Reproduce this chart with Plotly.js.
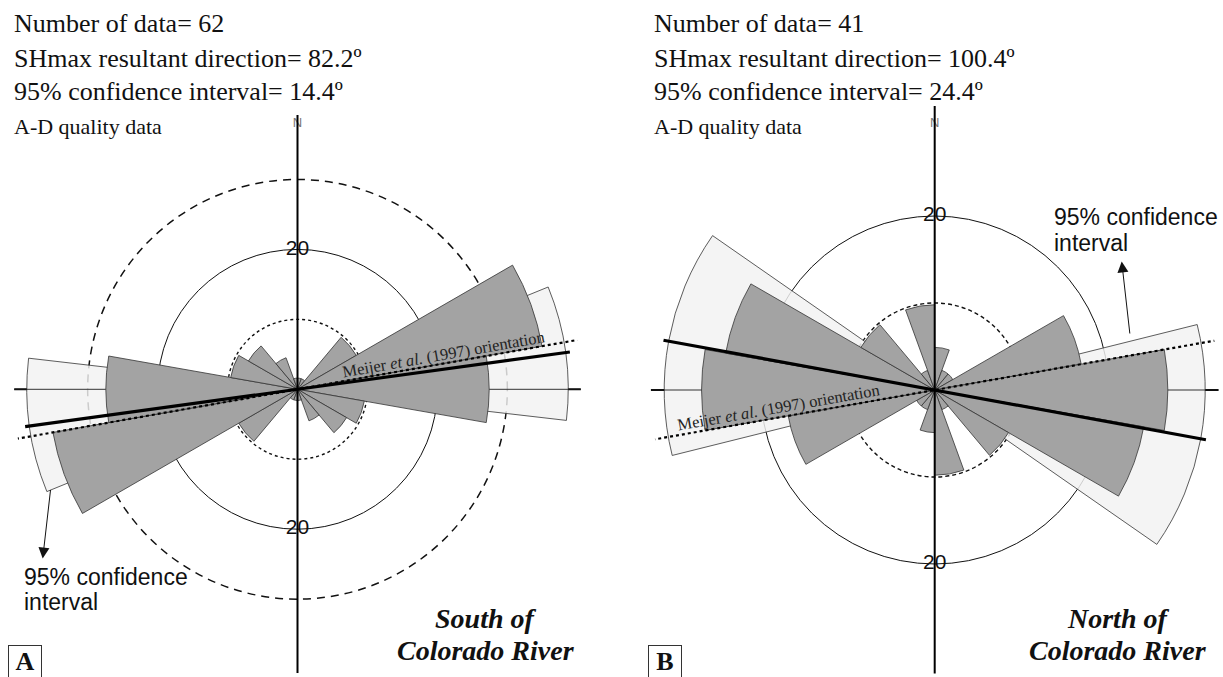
<!DOCTYPE html>
<html><head><meta charset="utf-8">
<script src="https://cdn.plot.ly/plotly-3.0.1.min.js"></script>
<style>html,body{margin:0;padding:0;background:#fff}</style>
</head><body><div id="chart" style="width:1223px;height:677px"></div>
<script>
// ---------- DATA ----------
const binStart = [0, 20, 40, 60, 80, 100, 120, 140, 160];          // 20-degree bins (axial data, mirrored +180)
const southPct = [1.6, 1.6, 9.7, 35.5, 27.4, 9.7, 8.1, 4.8, 1.6];    // % of data, South of Colorado River
const northPct = [4.9, 2.4, 2.4, 17.1, 26.8, 24.4, 9.8, 2.4, 9.8];   // % of data, North of Colorado River
const southN = 62, southDir = 82.2, southCI = 14.4;
const northN = 41, northDir = 100.4, northCI = 24.4;
const meijerDir = 80;
const southRings = [10, 20, 30];
const northRings = [10, 20];
const ringLabel = 20;

// ---------- LAYOUT HELPERS ----------
const W = 1223, H = 677, RPX = 284;
function dom(cx, cy) {
  return {x: [(cx - RPX) / W, (cx + RPX) / W], y: [(H - cy - RPX) / H, (H - cy + RPX) / H]};
}
const southDom = dom(297.5, 389.3), northDom = dom(934.7, 390);
const southMax = 40.6, northMax = 32.65;

function polar(d, maxR, rings, dash, gw) {
  const g = rings && rings.length > 0;
  return {
    domain: d, bgcolor: 'rgba(0,0,0,0)', barmode: 'overlay',
    radialaxis: {range: [0, maxR], showgrid: g, tickvals: g ? rings : [], griddash: dash || 'solid',
      gridcolor: '#111', gridwidth: gw || 1, showline: false, showticklabels: false, ticks: ''},
    angularaxis: {rotation: 90, direction: 'clockwise', showgrid: false, showline: false,
      showticklabels: false, ticks: ''}
  };
}
function dummy(sub) {
  return {type: 'scatterpolar', subplot: sub, r: [0], theta: [0], mode: 'markers',
    marker: {size: 1, opacity: 0}, hoverinfo: 'skip', showlegend: false};
}
function mirror(a) { return a.concat(a); }

function rose(sub, pct, dir, ci, o) {
  const th = binStart.map(b => b + 10).concat(binStart.map(b => b + 190));
  const r = mirror(pct);
  const hBin = pct[binStart.indexOf(80)];
  const t = [];
  // 95% confidence interval band
  t.push({type: 'barpolar', subplot: sub, r: [o.band, o.band], theta: [dir, dir + 180],
    width: [2 * ci, 2 * ci], marker: {color: 'rgba(242,242,242,0.83)', line: {color: '#333', width: 0.8}},
    hoverinfo: 'skip'});
  // petals
  t.push({type: 'barpolar', subplot: sub, r: r, theta: th, width: 20,
    marker: {color: '#a3a3a3', line: {color: '#333', width: 0.8}}, hoverinfo: 'skip'});
  // horizontal axis (E-W) visible outside petals
  [90, 270].forEach(a => {
    t.push({type: 'scatterpolar', subplot: sub, mode: 'lines', r: [hBin, o.tick], theta: [a, a],
      line: {color: '#333', width: 1}, cliponaxis: false, hoverinfo: 'skip'});
    t.push({type: 'scatterpolar', subplot: sub, mode: 'lines', r: [o.band, o.tick], theta: [a, a],
      line: {color: '#111', width: 2}, cliponaxis: false, hoverinfo: 'skip'});
  });
  // Meijer orientation (dotted)
  t.push({type: 'scatterpolar', subplot: sub, mode: 'lines', r: [o.meijer, o.meijer],
    theta: [meijerDir, meijerDir + 180], line: {color: '#000', width: 2.2, dash: 'dot'},
    cliponaxis: false, hoverinfo: 'skip'});
  // resultant SHmax direction
  t.push({type: 'scatterpolar', subplot: sub, mode: 'lines', r: [o.res, o.res],
    theta: [dir, dir + 180], line: {color: '#000', width: 3.2}, cliponaxis: false, hoverinfo: 'skip'});
  // labels
  t.push({type: 'scatterpolar', subplot: sub, mode: 'text', r: [o.nR], theta: [0], text: ['N'],
    textfont: {family: 'Liberation Sans', size: 13, color: '#777'}, cliponaxis: false, hoverinfo: 'skip'});
  t.push({type: 'scatterpolar', subplot: sub, mode: 'text', r: [ringLabel, ringLabel], theta: [0, 180],
    text: [String(ringLabel), String(ringLabel)],
    textfont: {family: 'Liberation Sans', size: 21, color: '#111'}, cliponaxis: false, hoverinfo: 'skip'});
  // N-S axis
  t.push({type: 'scatterpolar', subplot: sub, mode: 'lines', r: [o.vTop, 0, o.vBot], theta: [0, 0, 180],
    line: {color: '#000', width: 2}, cliponaxis: false, hoverinfo: 'skip'});
  return t;
}

const traces = [
  dummy('polar'), dummy('polar2'), dummy('polar3'),
  ...rose('polar4', southPct, southDir, southCI,
    {band: 38.7, res: 39.3, meijer: 41.9, tick: 40.5, vTop: 39.2, vBot: 40.6, nR: 37.9}),
  dummy('polar5'), dummy('polar6'),
  ...rose('polar7', northPct, northDir, northCI,
    {band: 31.1, res: 31.7, meijer: 33.6, tick: 32.7, vTop: 32.65, vBot: 32.6, nR: 30.6})
];

// ---------- ANNOTATIONS ----------
const serif = 'Liberation Serif', sans = 'Liberation Sans';
function txt(x, y, text, size, opts) {
  return Object.assign({xref: 'paper', yref: 'paper', x: x / W, y: 1 - y / H, text: text,
    showarrow: false, xanchor: 'left', yanchor: 'middle',
    font: {family: serif, size: size, color: '#111'}}, opts || {});
}
const TS = 26, TS2 = 22;
const ann = [];
function header(x0, n, dir, ci) {
  ann.push(txt(x0, 23, 'Number of data= ' + n, TS));
  ann.push(txt(x0, 58, 'SHmax resultant direction= ' + dir.toFixed(1) + 'º', TS));
  ann.push(txt(x0, 91.5, '95% confidence interval= ' + ci.toFixed(1) + 'º', TS));
  ann.push(txt(x0, 126, 'A-D quality data', TS2));
}
header(12, southN, southDir, southCI);
header(652, northN, northDir, northCI);

// 95% confidence labels + arrows
const CS = 23;
ann.push(txt(21.7, 577, '95% confidence', CS, {font: {family: sans, size: CS, color: '#111'}}));
ann.push(txt(21.7, 602, 'interval', CS, {font: {family: sans, size: CS, color: '#111'}}));
ann.push(txt(1051.7, 217, '95% confidence', CS, {font: {family: sans, size: CS, color: '#111'}}));
ann.push(txt(1051.7, 243.5, 'interval', CS, {font: {family: sans, size: CS, color: '#111'}}));
ann.push({xref: 'paper', yref: 'paper', x: 42.7 / W, y: 1 - 558.5 / H, ax: 8, ay: -70, text: '',
  showarrow: true, arrowhead: 2, arrowsize: 2.2, arrowwidth: 1, arrowcolor: '#111', standoff: 0});
ann.push({xref: 'paper', yref: 'paper', x: 1121.7 / W, y: 1 - 261.5 / H, ax: 8.3, ay: 73.5, text: '',
  showarrow: true, arrowhead: 2, arrowsize: 2.2, arrowwidth: 1, arrowcolor: '#111', standoff: 0});

// Meijer labels
const mj = 'Meijer <i>et al.</i> (1997) orientation';
ann.push(txt(443, 354, mj, 16.5, {xanchor: 'center', textangle: -10, font: {family: serif, size: 16.5, color: '#222'}}));
ann.push(txt(778, 407, mj, 16.5, {xanchor: 'center', textangle: -10, font: {family: serif, size: 16.5, color: '#222'}}));

// region labels
const RS = 28;
const bi = s => '<b><i>' + s + '</i></b>';
ann.push(txt(485.5, 618, bi('South of'), RS, {xanchor: 'center'}));
ann.push(txt(485.5, 650, bi('Colorado River'), RS, {xanchor: 'center'}));
ann.push(txt(1118, 618, bi('North of'), RS, {xanchor: 'center'}));
ann.push(txt(1118, 650, bi('Colorado River'), RS, {xanchor: 'center'}));

// boxed panel letters
function boxed(cx, cy, s) {
  return txt(cx, cy, '<b>' + s + '</b>', 26, {xanchor: 'center', width: 30, height: 29,
    borderpad: 1, bordercolor: '#333', borderwidth: 1, bgcolor: '#fff', align: 'center', valign: 'middle'});
}
ann.push(boxed(25, 661, 'A'));
ann.push(boxed(664.5, 661, 'B'));

const layout = {
  width: W, height: H, margin: {l: 0, r: 0, t: 0, b: 0}, paper_bgcolor: '#fff', showlegend: false,
  polar: polar(southDom, southMax, [southRings[0]], '3px,3px', 1.4),
  polar2: polar(southDom, southMax, [southRings[1]], 'solid', 1),
  polar3: polar(southDom, southMax, [southRings[2]], '8px,6px', 1.5),
  polar4: polar(southDom, southMax, [], null, 1),
  polar5: polar(northDom, northMax, [northRings[0]], '4px,3px', 1.4),
  polar6: polar(northDom, northMax, [northRings[1]], 'solid', 1),
  polar7: polar(northDom, northMax, [], null, 1),
  annotations: ann
};
Plotly.newPlot('chart', traces, layout, {staticPlot: true, displayModeBar: false});
</script></body></html>
